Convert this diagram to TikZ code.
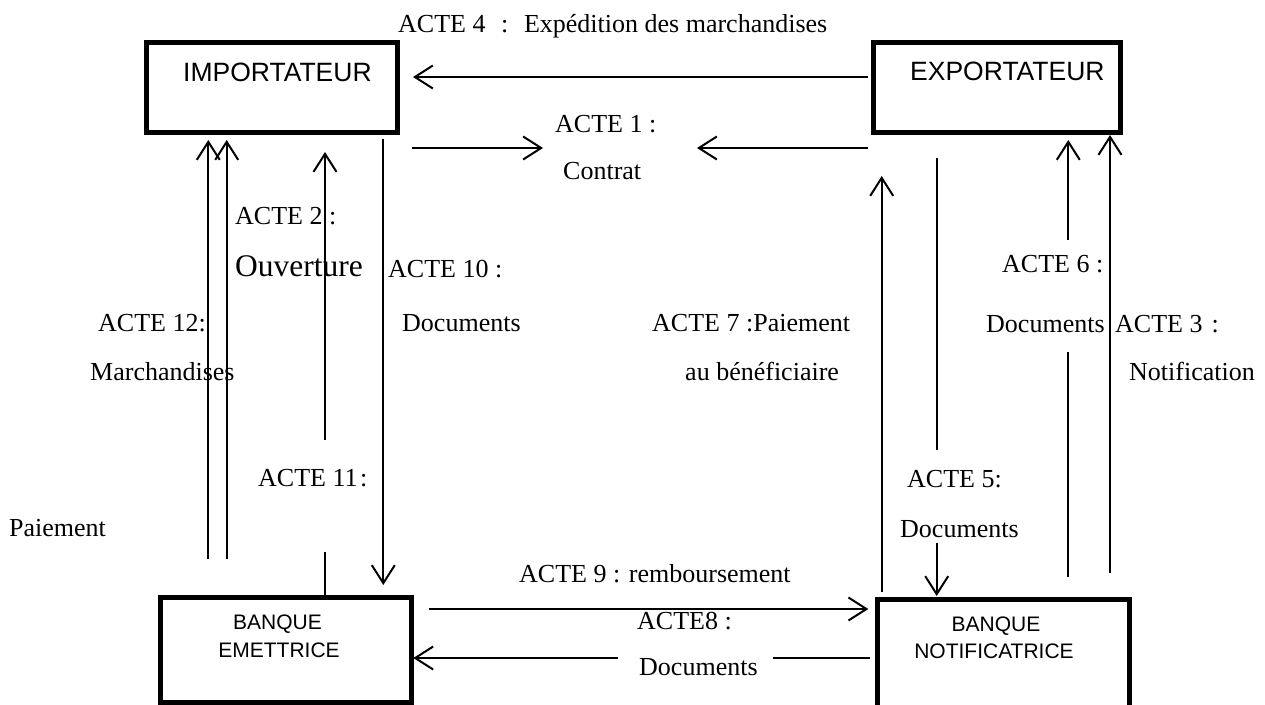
\documentclass[tikz,border=0pt]{standalone}
\usepackage{fontspec}
\setmainfont{Liberation Serif}
\newfontfamily\arialfont{Liberation Sans}
\usetikzlibrary{arrows.meta}

\begin{document}
\begin{tikzpicture}[x=1pt,y=-1pt,
  box/.style={draw, line width=5pt, inner sep=0pt},
  lbl/.style={anchor=base west, inner sep=0pt, font=\fontsize{26}{30}\selectfont},
  boxtext/.style={anchor=base west, inner sep=0pt, font=\arialfont\fontsize{26.5}{30}\selectfont},
  banktext/.style={anchor=base, inner sep=0pt, font=\arialfont\fontsize{21}{25}\selectfont},
  conn/.style={line width=2pt},
  thinconn/.style={line width=1.3pt},
  arr/.style={conn, -{Straight Barb[length=18pt,width=23pt]}},
]
\useasboundingbox (0,0) rectangle (1265,704);
\clip (0,0) rectangle (1265,704);

% the four parties
\node[box, minimum width=251.5pt, minimum height=90pt] (imp) at (271.75,87.5) {};
\node[box, minimum width=247pt, minimum height=90pt] (exp) at (996.5,87.5) {};
\node[box, minimum width=251.5pt, minimum height=104.5pt] (em) at (285.75,649.75) {};
\node[box, minimum width=251.5pt, minimum height=131pt] (not) at (1003.25,664.5) {};

\node[boxtext] (impt) at (183,81) {IMPORTATEUR};
\node[boxtext] (expt) at (910,80) {EXPORTATEUR};
\node[banktext] (emt1) at (277.5,629) {BANQUE};
\node[banktext] (emt2) at (279,657) {EMETTRICE};
\node[banktext] (nott1) at (996,631) {BANQUE};
\node[banktext] (nott2) at (994,658) {NOTIFICATRICE};

% step labels
\node[lbl] (l4) at (398,32) {ACTE 4\hspace{0.6em}:\hspace{0.6em}Expédition des marchandises};
\node[lbl] (l1a) at (555,132) {ACTE 1 :};
\node[lbl] (l1b) at (563,179) {Contrat};
\node[lbl] (l2a) at (235,224) {ACTE 2 :};
\node[lbl, font=\fontsize{31.5}{36}\selectfont] (l2b) at (235,276) {Ouverture};
\node[lbl] (l10a) at (388,277) {ACTE 10 :};
\node[lbl] (l10b) at (402,331) {Documents};
\node[lbl] (l12a) at (98,331) {ACTE 12:};
\node[lbl] (l12b) at (90,380) {Marchandises};
\node[lbl] (l11a) at (258,486) {ACTE 11\hspace{0.1em}:};
\node[lbl] (l11b) at (9,536) {Paiement};
\node[lbl] (l7a) at (652,331) {ACTE 7 :Paiement};
\node[lbl] (l7b) at (685,380) {au bénéficiaire};
\node[lbl] (l6a) at (1002,272) {ACTE 6 :};
\node[lbl] (l6b) at (986,332) {Documents};
\node[lbl] (l3a) at (1115,332) {ACTE 3\hspace{0.35em}:};
\node[lbl] (l3b) at (1129,380) {Notification};
\node[lbl] (l5a) at (907,487) {ACTE 5:};
\node[lbl] (l5b) at (900,537) {Documents};
\node[lbl] (l9) at (519,582) {ACTE 9 : remboursement};
\node[lbl] (l8a) at (637,629) {ACTE8 :};
\node[lbl] (l8b) at (639,675) {Documents};

% connector end points
\coordinate (a4s) at (868,77);     \coordinate (a4e) at (413,77);
\coordinate (a1s) at (411.7,148);  \coordinate (a1e) at (543,148);
\coordinate (b1s) at (868,148);    \coordinate (b1e) at (697,148);
\coordinate (a12s) at (208.3,559); \coordinate (a12e) at (208.3,140);
\coordinate (b12s) at (226.7,559); \coordinate (b12e) at (226.7,140);
\coordinate (a2s) at (325,440);    \coordinate (a2e) at (325,152);
\coordinate (a11s) at (325,552);   \coordinate (a11e) at (325,596);
\coordinate (a10s) at (383.3,139); \coordinate (a10e) at (383.3,585);
\coordinate (a7s) at (881.7,592);  \coordinate (a7e) at (881.7,176);
\coordinate (a5s) at (936.7,158);  \coordinate (a5m) at (936.7,450);
\coordinate (b5s) at (936.7,543);  \coordinate (b5e) at (936.7,596);
\coordinate (a6s) at (1068.3,240); \coordinate (a6e) at (1068.3,140);
\coordinate (b6s) at (1068.3,352); \coordinate (b6e) at (1068.3,577);
\coordinate (a3s) at (1110,573);   \coordinate (a3e) at (1110,135);
\coordinate (a9s) at (429.3,609);  \coordinate (a9e) at (868.3,609);
\coordinate (a8s) at (870,658);    \coordinate (a8m) at (772.7,658);
\coordinate (b8s) at (618.3,658);  \coordinate (b8e) at (413.3,658);

% connectors
\draw[arr] (a4s) -- (a4e);
\draw[arr] (a1s) -- (a1e);
\draw[arr] (b1s) -- (b1e);
\draw[arr] (a12s) -- (a12e);
\draw[arr] (b12s) -- (b12e);
\draw[arr] (a2s) -- (a2e);
\draw[thinconn] (a11s) -- (a11e);
\draw[arr] (a10s) -- (a10e);
\draw[arr] (a7s) -- (a7e);
\draw[conn] (a5s) -- (a5m);
\draw[arr] (b5s) -- (b5e);
\draw[arr] (a6s) -- (a6e);
\draw[conn] (b6s) -- (b6e);
\draw[arr] (a3s) -- (a3e);
\draw[arr] (a9s) -- (a9e);
\draw[conn] (a8s) -- (a8m);
\draw[arr] (b8s) -- (b8e);
\end{tikzpicture}
\end{document}
